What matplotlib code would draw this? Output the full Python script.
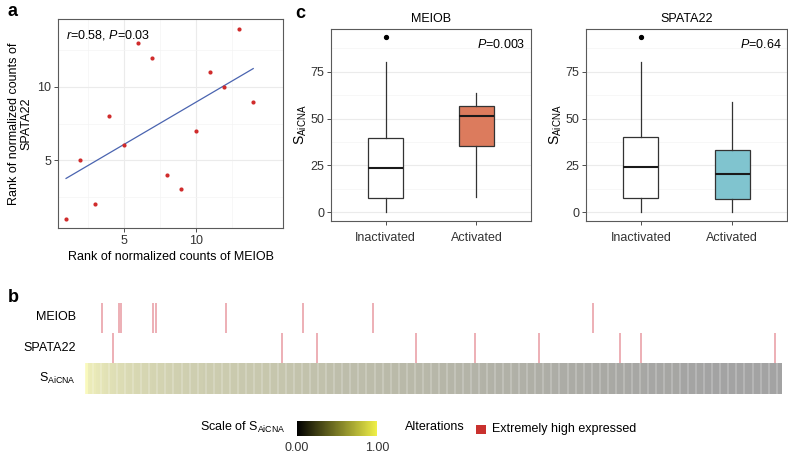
import numpy as np
import matplotlib
matplotlib.use('Agg')
import matplotlib.pyplot as plt
from matplotlib.colors import LinearSegmentedColormap, Normalize
from matplotlib.cm import ScalarMappable

plt.rcParams['font.family'] = ['Liberation Sans', 'DejaVu Sans']
plt.rcParams['mathtext.fontset'] = 'custom'
plt.rcParams['mathtext.rm'] = 'Liberation Sans'
plt.rcParams['mathtext.it'] = 'Liberation Sans:italic'
plt.rcParams['font.size'] = 9

###########################
# data

# panel a: rank pairs
rank_meiob = [1, 2, 3, 4, 5, 6, 7, 8, 9, 10, 11, 12, 13, 14]
rank_spata22 = [1, 5, 2, 8, 6, 13, 12, 4, 3, 7, 11, 10, 14, 9]

# panel c: box summary stats  (whislo, q1, med, q3, whishi, fliers)
groups = ['Inactivated', 'Activated']
meiob_stats = [(0, 7.5, 23.7, 39.5, 80, [93.5]),
               (8.3, 35.4, 51.5, 56.8, 63.9, [])]
spata_stats = [(0, 7.6, 24.0, 40.2, 80, [93.5]),
               (0, 6.9, 20.6, 33.3, 58.8, [])]
pvals = ['0.003', '0.64']

# panel b: sorted S_AiCNA scores of all samples
s_aicna = [
    93, 80, 78, 76, 74, 72, 70, 68, 67, 66, 65, 64, 63, 62, 61, 60, 59, 58, 57, 56,
    56, 55, 55, 54, 54, 53, 53, 52, 52, 51, 51, 50, 50, 49, 49, 48, 48, 48, 47, 47,
    47, 46, 46, 46, 45, 45, 45, 44, 44, 44, 43, 43, 43, 43, 42, 42, 42, 42, 41, 41,
    41, 41, 40, 40, 40, 40, 39, 39, 39, 38, 38, 38, 37, 37, 37, 36, 36, 36, 35, 35,
    35, 34, 34, 34, 33, 33, 33, 32, 32, 32, 31, 31, 31, 30, 30, 30, 29, 29, 29, 29,
    28, 28, 28, 28, 27, 27, 27, 27, 26, 26, 26, 26, 25, 25, 25, 25, 25, 24, 24, 24,
    24, 24, 24, 24, 23, 23, 23, 23, 22, 22, 22, 22, 21, 21, 21, 21, 20, 20, 20, 20,
    19, 19, 19, 19, 18, 18, 18, 18, 17, 17, 17, 17, 16, 16, 16, 16, 15, 15, 15, 15,
    14, 14, 14, 14, 13, 13, 13, 13, 12, 12, 12, 12, 11, 11, 11, 11, 10, 10, 10, 10,
    10, 9, 9, 9, 9, 9, 8, 8, 8, 8, 8, 7, 7, 7, 7, 7, 7, 6, 6, 6,
    6, 6, 6, 5, 5, 5, 5, 5, 5, 4, 4, 4, 4, 4, 4, 3, 3, 3, 3, 3,
    3, 3, 2, 2, 2, 2, 2, 2, 2, 2, 1, 1, 1, 1, 1, 1, 1, 1, 1, 1,
    1, 1, 1, 0, 0, 0, 0, 0, 0, 0, 0, 0, 0, 0, 0, 0, 0, 0, 0, 0]
meiob_alt = [6, 12, 13, 25, 26, 52, 81, 107, 189]
spata_alt = [10, 73, 86, 123, 145, 169, 199, 207, 257]

###########################

W, H = 788, 453
fig = plt.figure(figsize=(W / 100, H / 100), dpi=100)


def px(l, t, r, b):
    return [l / W, 1 - b / H, (r - l) / W, (b - t) / H]


def style(ax):
    for s in ax.spines.values():
        s.set_color('#5a5a5a')
        s.set_linewidth(0.8)
    ax.tick_params(colors='#4d4d4d', labelcolor='#333333', length=3,
                   width=0.7, labelsize=9, pad=2)
    ax.set_axisbelow(True)


grid_major = dict(color='#ebebeb', lw=0.8)
grid_minor = dict(color='#f4f4f4', lw=0.5)

# ---- panel a
ax = fig.add_axes(px(58, 19, 283, 228))
style(ax)
ax.scatter(rank_meiob, rank_spata22, s=9, color='#d02c2c', zorder=3, lw=0)
k, b0 = np.polyfit(rank_meiob, rank_spata22, 1)
xs = np.array([min(rank_meiob), max(rank_meiob)])
ax.plot(xs, k * xs + b0, color='#4a64b0', lw=0.9, zorder=2)
ax.set_xlim(0.44, 16.07)
ax.set_ylim(0.35, 14.65)
ax.set_xticks([5, 10])
ax.set_yticks([5, 10])
ax.set_xticks([2.5, 7.5, 12.5], minor=True)
ax.set_yticks([2.5, 7.5, 12.5], minor=True)
ax.tick_params(which='minor', length=0)
ax.grid(which='major', **grid_major)
ax.grid(which='minor', **grid_minor)
ax.set_xlabel('Rank of normalized counts of MEIOB', fontsize=9, labelpad=3)
ax.set_ylabel('Rank of normalized counts of\nSPATA22', fontsize=9,
              labelpad=3, linespacing=1.05)
ax.text(0.034, 0.925, r'$r$=0.58, $P$=0.03', transform=ax.transAxes,
        ha='left', va='center', fontsize=9)

# ---- panel c
panels = [('MEIOB', meiob_stats, px(331, 29, 531, 221), '#dc7b5d'),
          ('SPATA22', spata_stats, px(586, 29, 787, 221), '#80c4cf')]
for (title, stats, rect, col), pv in zip(panels, pvals):
    ax = fig.add_axes(rect)
    style(ax)
    ax.tick_params(axis='x', pad=5)
    bx = []
    for g, st in zip(groups, stats):
        bx.append(dict(label=g, whislo=st[0], q1=st[1], med=st[2],
                       q3=st[3], whishi=st[4], fliers=st[5]))
    art = ax.bxp(bx, positions=[1, 2], widths=0.385, patch_artist=True,
                 showcaps=False,
                 boxprops=dict(edgecolor='#333333', lw=0.9),
                 whiskerprops=dict(color='#333333', lw=0.9),
                 medianprops=dict(color='#1a1a1a', lw=1.5),
                 flierprops=dict(marker='o', markersize=2.8,
                                 markerfacecolor='black',
                                 markeredgecolor='black'))
    art['boxes'][0].set_facecolor('white')
    art['boxes'][1].set_facecolor(col)
    ax.set_xlim(0.4, 2.6)
    ax.set_ylim(-4.65, 97.8)
    ax.set_yticks([0, 25, 50, 75])
    ax.set_yticks([12.5, 37.5, 62.5, 87.5], minor=True)
    ax.tick_params(which='minor', length=0)
    ax.grid(axis='y', which='major', **grid_major)
    ax.grid(axis='y', which='minor', **grid_minor)
    ax.set_title(title, fontsize=9, pad=5)
    ax.set_ylabel(r'S$_{\mathrm{AiCNA}}$', fontsize=10, labelpad=1)
    ax.text(0.972, 0.918, r'$P$=' + pv, transform=ax.transAxes,
            ha='right', va='center', fontsize=9)

# ---- panel b
cmap = LinearSegmentedColormap.from_list('aicna', ['#000000', '#f0f048'])
vals = np.array(s_aicna, dtype=float) / max(s_aicna)
n = len(vals)
axb = fig.add_axes(px(85, 302, 782, 394))
axb.set_xlim(0, n)
axb.set_ylim(0, 3)
axb.axis('off')
axb.pcolormesh(np.arange(n + 1), [0, 1], vals[None, :], cmap=cmap,
               vmin=0, vmax=1, alpha=0.36, edgecolors='none',
               antialiased=False)
# thin white separators between every few samples
axb.vlines(np.arange(0, n, 3), 0, 1, color='white', lw=0.35, alpha=0.8)
axb.vlines(np.array(meiob_alt) + 0.5, 2.0, 2.98, color='#e89aa2', lw=1.1)
axb.vlines(np.array(spata_alt) + 0.5, 1.02, 1.98, color='#e89aa2', lw=1.1)
for yy, lab in [(2.5, 'MEIOB'), (1.5, 'SPATA22'), (0.5, r'S$_{\mathrm{AiCNA}}$')]:
    axb.text(-0.013 * n, yy, lab, ha='right', va='center', fontsize=9,
             transform=axb.transData)

# ---- legend
fig.text(200 / W, 1 - 427 / H, r'Scale of S$_{\mathrm{AiCNA}}$',
         ha='left', va='center', fontsize=9)
cax = fig.add_axes(px(297, 421, 377, 436))
cb = fig.colorbar(ScalarMappable(norm=Normalize(0, 1), cmap=cmap),
                  cax=cax, orientation='horizontal', ticks=[0, 1])
cb.outline.set_visible(False)
cb.set_ticklabels(['0.00', '1.00'])
cax.tick_params(length=0, labelsize=9, pad=4, labelcolor='#333333')
fig.text(405 / W, 1 - 427 / H, 'Alterations', ha='left', va='center',
         fontsize=9)
lax = fig.add_axes(px(476, 425, 486, 434))
lax.add_patch(plt.Rectangle((0, 0), 1, 1, color='#c9312e'))
lax.set_xlim(0, 1)
lax.set_ylim(0, 1)
lax.axis('off')
fig.text(492 / W, 1 - 429 / H, 'Extremely high expressed', ha='left',
         va='center', fontsize=9)

# panel letters
for x, y, l in [(8, 12, 'a'), (295, 13, 'c'), (8, 298, 'b')]:
    fig.text(x / W, 1 - y / H, l, fontsize=13, fontweight='bold',
             ha='left', va='center')

fig.savefig('out.png', dpi=100)
